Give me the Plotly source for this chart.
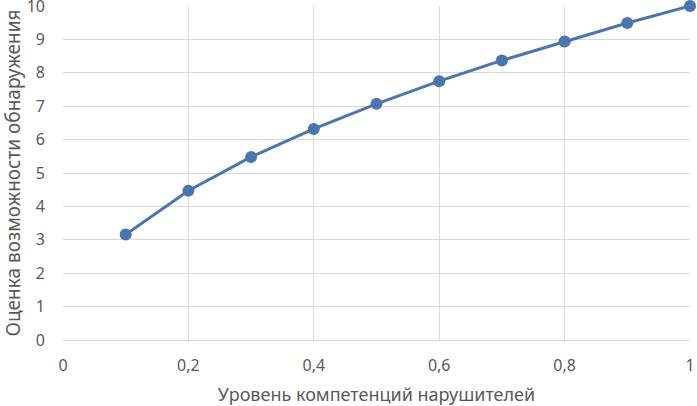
import plotly.graph_objects as go

# уровень компетенций и оценка возможности обнаружения
competence = [0.1, 0.2, 0.3, 0.4, 0.5, 0.6, 0.7, 0.8, 0.9, 1.0]
detection = [3.16, 4.47, 5.48, 6.32, 7.07, 7.75, 8.37, 8.94, 9.49, 10.0]

x_ticks = [0, 0.2, 0.4, 0.6, 0.8, 1]
y_ticks = [0, 1, 2, 3, 4, 5, 6, 7, 8, 9, 10]

x_title = "Уровень компетенций нарушителей"
y_title = "Оценка возможности обнаружения"

fig = go.Figure()
fig.add_trace(go.Scatter(
    x=competence,
    y=detection,
    mode="lines+markers",
    line=dict(color="#4a75ad", width=3),
    marker=dict(color="#4a75ad", size=12),
    cliponaxis=False,
    showlegend=False,
))

grid = "#d9d9d9"
fig.update_layout(
    width=697,
    height=406,
    margin=dict(l=63, r=7, t=6, b=66),
    plot_bgcolor="white",
    paper_bgcolor="white",
    separators=", ",
    font=dict(family="Noto Sans", color="#595959", size=16),
    xaxis=dict(
        range=[0, 1],
        tickmode="array",
        tickvals=x_ticks,
        showgrid=True,
        gridcolor=grid,
        gridwidth=1,
        zeroline=False,
        showline=False,
        automargin=False,
        ticklabeloverflow="allow",
        ticklabelstandoff=14,
        title=dict(text=x_title, font=dict(size=18), standoff=14),
    ),
    yaxis=dict(
        range=[0, 10],
        tickmode="array",
        tickvals=y_ticks,
        showgrid=True,
        gridcolor=grid,
        gridwidth=1,
        zeroline=True,
        zerolinecolor=grid,
        zerolinewidth=1,
        showline=False,
        automargin=False,
        ticklabeloverflow="allow",
        ticklabelstandoff=17,
        title=dict(text=y_title, font=dict(size=19), standoff=12),
    ),
)

# убрать отступ body, чтобы график встал ровно в окно
fig.write_html(
    "out.html",
    config={"displayModeBar": False},
    post_script="document.body.style.margin='0';",
)
